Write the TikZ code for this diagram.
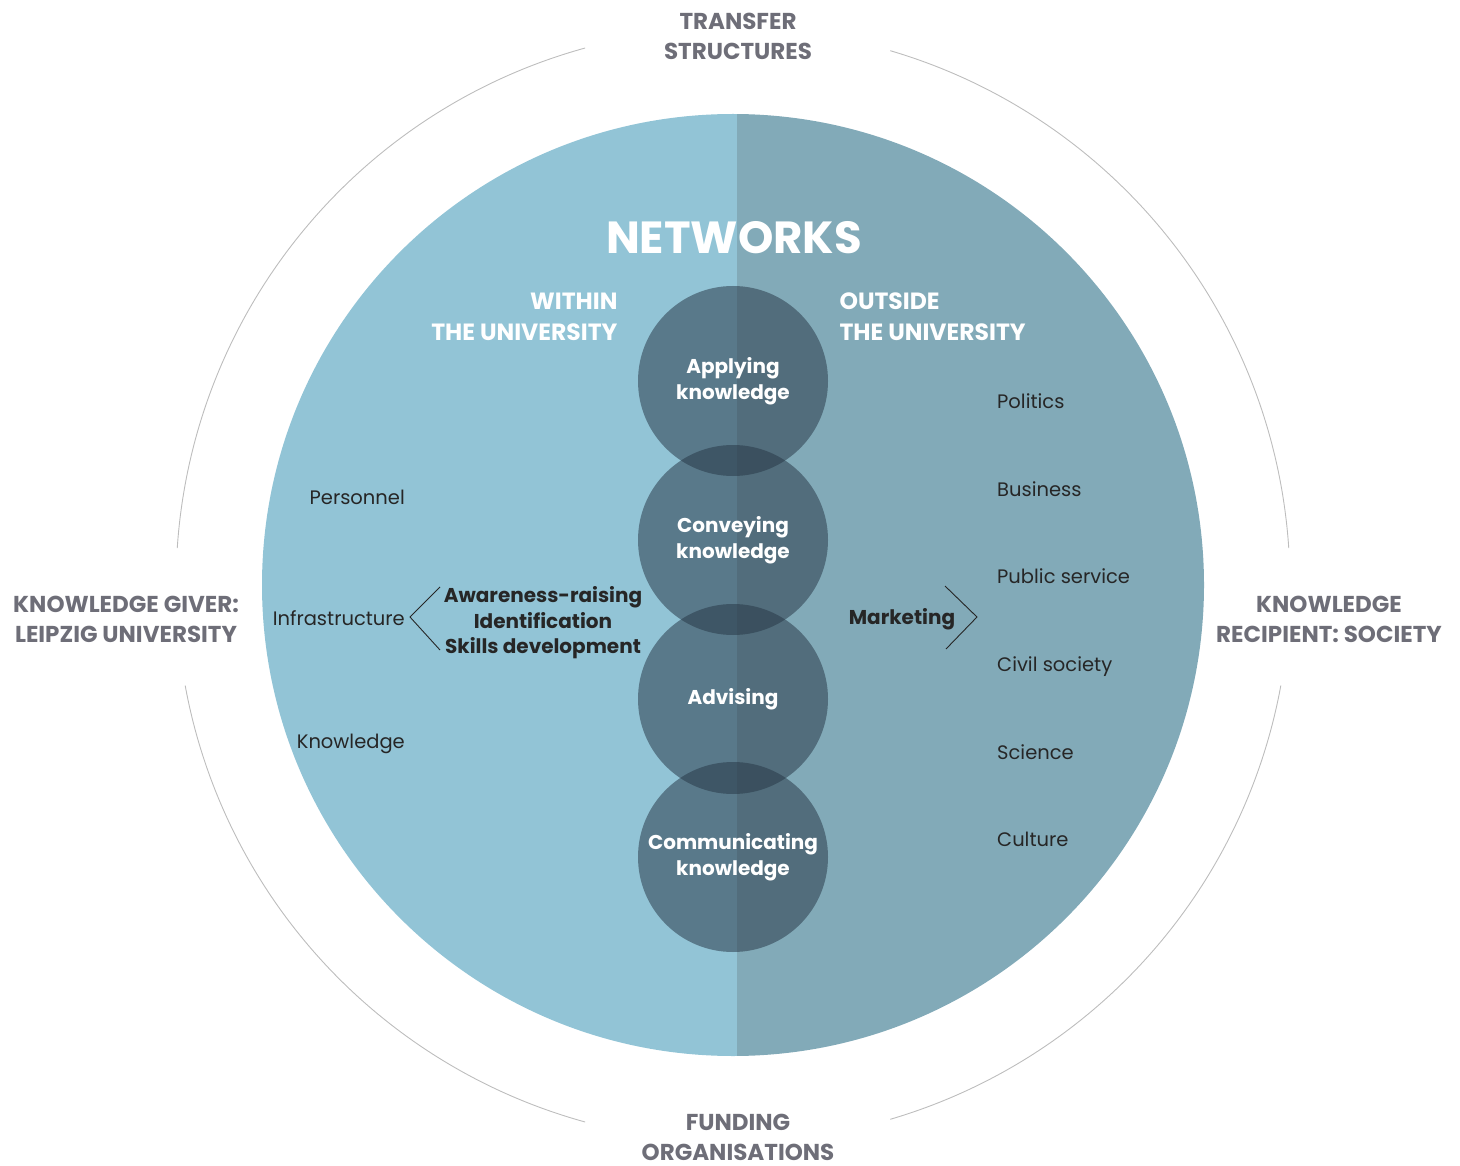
\documentclass[tikz,border=0pt]{standalone}
\usepackage{fontspec}
\setmainfont{Poppins}
\definecolor{leftc}{HTML}{92C4D6}
\definecolor{rightc}{HTML}{82AAB8}
\definecolor{overc}{RGB}{38,54,69}
\definecolor{ringc}{HTML}{BDBDBD}
\definecolor{outerc}{HTML}{6E6E78}
\definecolor{darktext}{HTML}{262626}
\tikzset{
  ring/.style={draw=ringc, line width=0.9pt},
  outerlabel/.style={text=outerc, font=\fontsize{23}{30}\selectfont\bfseries, align=center},
  headlabel/.style={text=white, font=\fontsize{23.5}{31}\selectfont\bfseries},
  bubble/.style={circle, minimum size=190pt, inner sep=0pt, fill=overc, fill opacity=0.52, text opacity=1, text=white, align=center, font=\fontsize{20}{26}\selectfont\bfseries},
  item/.style={text=darktext, font=\fontsize{19.5}{24}\selectfont, inner sep=0pt},
  bracket/.style={draw=darktext, line width=0.9pt},
  bracktext/.style={text=darktext, align=center, font=\fontsize{20}{25.5}\selectfont\bfseries}
}
\begin{document}
\begin{tikzpicture}[x=1pt,y=-1pt]
\useasboundingbox (0,0) rectangle (1460,1166);
\coordinate (c) at (733,585);
% main disc
\begin{scope}
  \clip (0,0) rectangle (737,1166);
  \fill[leftc] (c) circle (471);
\end{scope}
\begin{scope}
  \clip (737,0) rectangle (1460,1166);
  \fill[rightc] (c) circle (471);
\end{scope}
% outer ring segments
\draw[ring] (c) ++(-105.4:557) arc[start angle=-105.4, end angle=-176.2, radius=557];
\draw[ring] (c) ++(-73.6:557) arc[start angle=-73.6, end angle=-3.8, radius=557];
\draw[ring] (c) ++(-190.4:557) arc[start angle=-190.4, end angle=-254.6, radius=557];
\draw[ring] (c) ++(-286.4:557) arc[start angle=-286.4, end angle=-349.6, radius=557];
% outer labels
\node[outerlabel] (transfer) at (738,36) {TRANSFER\\STRUCTURES};
\node[outerlabel] (giver) at (126,619) {KNOWLEDGE GIVER:\\LEIPZIG UNIVERSITY};
\node[outerlabel] (recipient) at (1329,619) {KNOWLEDGE\\RECIPIENT: SOCIETY};
\node[outerlabel] (funding) at (738,1137) {FUNDING\\ORGANISATIONS};
% headings
\node[text=white, font=\fontsize{45}{50}\selectfont\bfseries] (networks) at (734,238) {NETWORKS};
\node[headlabel, align=right, anchor=east] (within) at (621,317) {WITHIN\\THE UNIVERSITY};
\node[headlabel, align=left, anchor=west] (outside) at (836,317) {OUTSIDE\\THE UNIVERSITY};
% bubbles
\node[bubble] (apply) at (733,381) {Applying\\knowledge};
\node[bubble] (convey) at (733,540) {Conveying\\knowledge};
\node[bubble] (advise) at (733,699) {Advising};
\node[bubble] (comm) at (733,857) {Communicating\\knowledge};
% left items
\node[item, anchor=base east] (personnel) at (405,504) {Personnel};
\node[item, anchor=base east] (infra) at (405,625) {Infrastructure};
\node[item, anchor=base east] (know) at (405,748) {Knowledge};
% right items
\node[item, anchor=base west] (politics) at (997,409) {Politics};
\node[item, anchor=base west] (business) at (997,496) {Business};
\node[item, anchor=base west] (public) at (997,583) {Public service};
\node[item, anchor=base west] (civil) at (997,671) {Civil society};
\node[item, anchor=base west] (science) at (997,759) {Science};
\node[item, anchor=base west] (culture) at (997,846) {Culture};
% brackets
\node[bracktext] (awareness) at (543,623) {Awareness-raising\\Identification\\Skills development};
\coordinate (lb1) at (440,587);
\coordinate (lb2) at (410,617);
\coordinate (lb3) at (440,650);
\draw[bracket] (lb1) -- (lb2) -- (lb3);
\node[bracktext] (marketing) at (902,619) {Marketing};
\coordinate (rb1) at (945,586);
\coordinate (rb2) at (977,617);
\coordinate (rb3) at (946,649);
\draw[bracket] (rb1) -- (rb2) -- (rb3);
\end{tikzpicture}
\end{document}
